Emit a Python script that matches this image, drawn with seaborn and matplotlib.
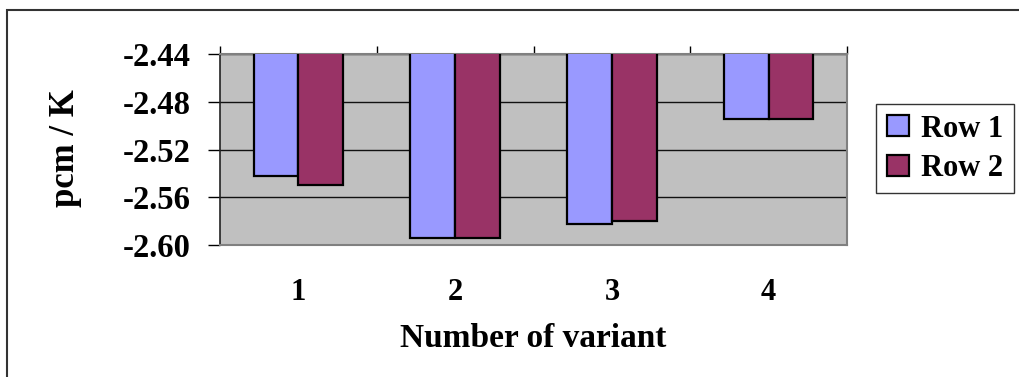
import matplotlib
matplotlib.use("Agg")
import matplotlib.pyplot as plt
import seaborn as sns
import pandas as pd
from matplotlib.patches import Rectangle, Patch

variants = ["1", "2", "3", "4"]
row1 = [-2.542, -2.594, -2.582, -2.494]
row2 = [-2.550, -2.594, -2.580, -2.494]
series_names = ["Row 1", "Row 2"]
yticks = [-2.60, -2.56, -2.52, -2.48, -2.44]
colors = ["#9999FF", "#993366"]

df = pd.DataFrame({
    "variant": variants * 2,
    "value": row1 + row2,
    "series": [series_names[0]] * 4 + [series_names[1]] * 4,
})

sns.set_theme(style="white")
plt.rcParams["font.family"] = ["Liberation Serif", "DejaVu Serif"]
plt.rcParams["font.weight"] = "bold"
plt.rcParams["text.color"] = "black"
plt.rcParams["axes.labelcolor"] = "black"
plt.rcParams["xtick.color"] = "black"
plt.rcParams["ytick.color"] = "black"

W, H = 1020, 377
fig = plt.figure(figsize=(W / 100, H / 100), dpi=100)
ax = fig.add_axes([220 / W, 1 - 245 / H, (847 - 220) / W, (245 - 54.3) / H])
ax.set_facecolor("#C0C0C0")

sns.barplot(data=df, x="variant", y="value", hue="series", palette=colors,
            width=0.57, edgecolor="black", linewidth=1.6, saturation=1,
            legend=False, ax=ax, zorder=3)

ax.set_ylim(-2.60, -2.44)
ax.set_xlim(-0.5, 3.5)
ax.set_yticks(yticks)
ax.set_yticklabels([f"{t:.2f}" for t in yticks], fontsize=23.5, fontweight="bold")
ax.yaxis.grid(True, color="#111111", linewidth=1.0, zorder=1)
ax.set_axisbelow(True)

ax.tick_params(axis="y", direction="out", length=9, width=1, color="black", pad=12, left=True,
               labelcolor="black")
ax.tick_params(axis="x", which="major", length=0, pad=24, labelsize=22, labelcolor="black")
for lab in ax.get_xticklabels():
    lab.set_fontweight("bold")
ax.set_xticks([-0.5, 0.5, 1.5, 2.5, 3.5], minor=True)
ax.tick_params(axis="x", which="minor", top=True, bottom=False, direction="out",
               length=6, width=1, color="black")

for side in ["top", "bottom", "right"]:
    ax.spines[side].set_color("#808080")
    ax.spines[side].set_linewidth(1.5)
ax.spines["left"].set_color("#222222")
ax.spines["left"].set_linewidth(1.2)

ax.set_xlabel("Number of variant", fontsize=24, fontweight="bold", va="center", color="black")
ax.xaxis.set_label_coords(0.499, -0.49)
ax.set_ylabel("pcm / K", fontsize=25, fontweight="bold", va="center", ha="center", color="black")
ax.yaxis.set_label_coords(-0.247, 0.51)

handles = [Patch(facecolor=c, edgecolor="black", linewidth=1.6) for c in colors]
leg = fig.legend(handles, series_names, loc="upper left",
                 bbox_to_anchor=(876 / W, 1 - 104 / H), frameon=True, fancybox=False,
                 edgecolor="black", prop={"weight": "bold", "size": 22},
                 handlelength=0.72, handleheight=0.68, handletextpad=0.4,
                 borderpad=0.35, labelspacing=0.33, borderaxespad=0)
leg.get_frame().set_linewidth(1.0)
for t in leg.get_texts():
    t.set_color("black")

fig.add_artist(Rectangle((7.5 / W, -0.1), 1.2, 1 - 10 / H + 0.1, transform=fig.transFigure,
                         fill=False, edgecolor="#333333", linewidth=1.5))

fig.savefig("out.png", dpi=100)
